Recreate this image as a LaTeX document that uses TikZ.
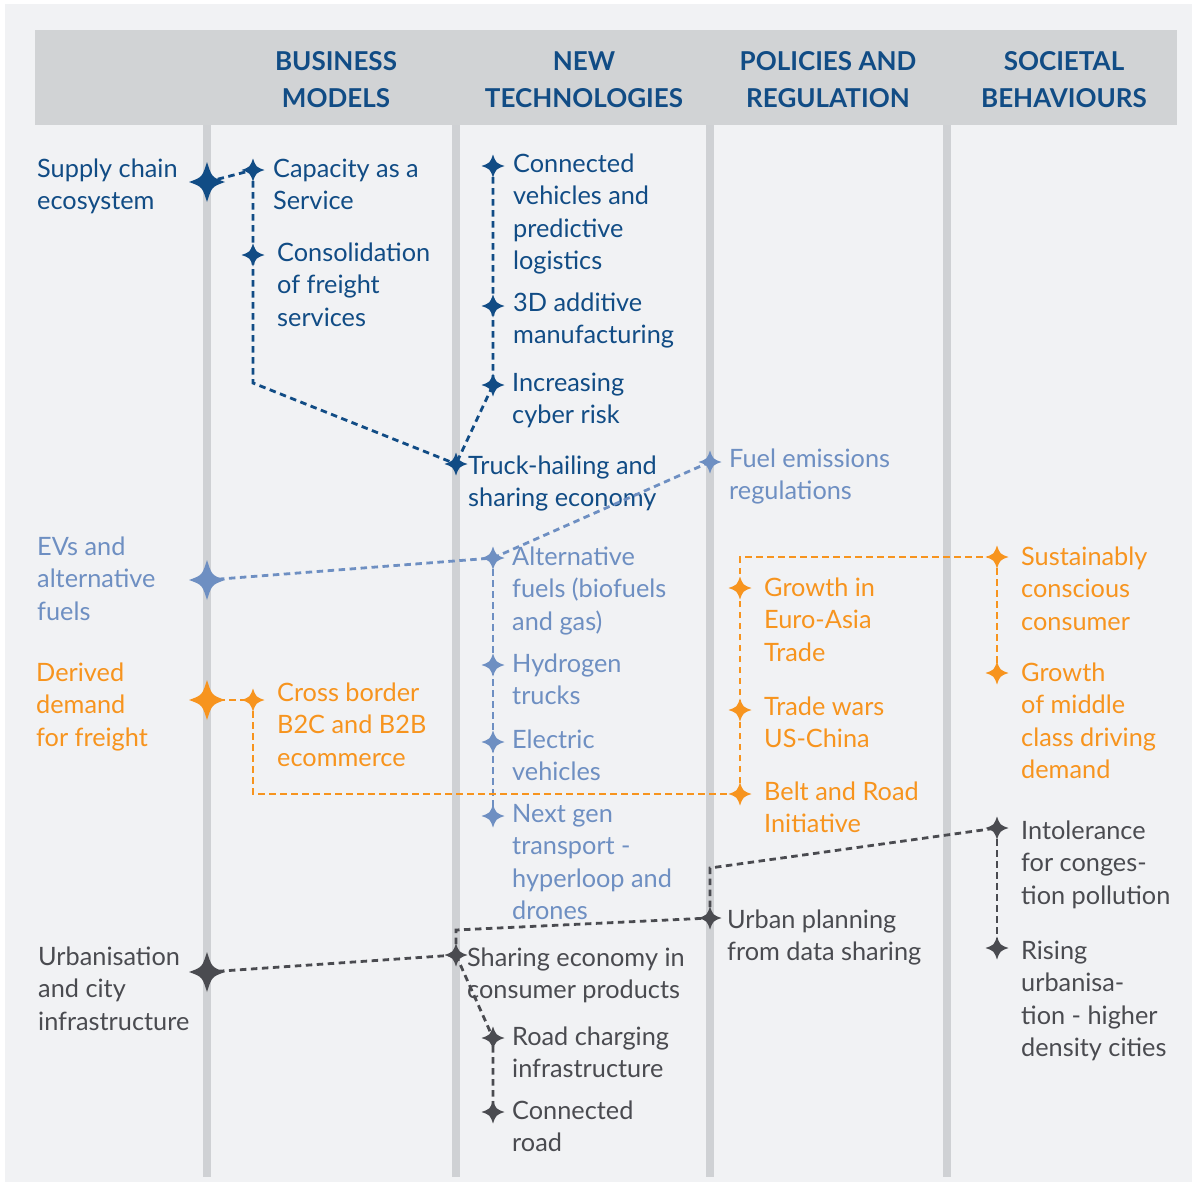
\documentclass[tikz,border=0pt]{standalone}
\usepackage{fontspec}
\setmainfont{Lato}
\definecolor{bgc}{HTML}{F1F2F4}
\definecolor{headc}{HTML}{D1D3D5}
\definecolor{barc}{HTML}{CFD1D4}
\definecolor{dblue}{HTML}{114C85}
\definecolor{lblue}{HTML}{6E8FC2}
\definecolor{orng}{HTML}{F7941E}
\definecolor{dgray}{HTML}{4A4B50}
\newcommand\mlines[1]{\vtop{\baselineskip=32.5pt\halign{##\hfil\cr#1\crcr}}}
\newcommand\hlines[1]{\vtop{\baselineskip=37pt\halign{\hfil##\hfil\cr#1\crcr}}}
\tikzset{
  txt/.style={anchor=base west, inner sep=0pt, font=\fontsize{25.3}{32.5}\selectfont},
  headtxt/.style={anchor=base, inner sep=0pt, text=dblue, font=\fontsize{26}{37}\selectfont\bfseries},
  link/.style={dash pattern=on 6.5pt off 4.5pt, line width=2.8pt},
  sparksmall/.pic={\fill (0,-11.5) .. controls (3,-3) .. (11.5,0) .. controls (3,3) .. (0,11.5) .. controls (-3,3) .. (-11.5,0) .. controls (-3,-3) .. cycle;},
  sparkbig/.pic={\fill (0,-20) .. controls (4.8,-4.8) .. (18,0) .. controls (4.8,4.8) .. (0,20) .. controls (-4.8,4.8) .. (-18,0) .. controls (-4.8,-4.8) .. cycle;}
}
\begin{document}
\begin{tikzpicture}[x=1pt,y=-1pt]
\useasboundingbox (0,0) rectangle (1192,1183);
\fill[white] (0,0) rectangle (1192,1183);
\fill[bgc] (5,4) rectangle (1192,1182);
\fill[headc] (35,30) rectangle (1177,125);
\foreach \bx in {207,456,710,947}{\fill[barc] (\bx-4,125) rectangle (\bx+4,1177);}
% headers
\node[headtxt] (h1) at (336,70) {\hlines{BUSINESS\cr MODELS}};
\node[headtxt] (h2) at (584,70) {\hlines{NEW\cr TECHNOLOGIES}};
\node[headtxt] (h3) at (828,70) {\hlines{POLICIES AND\cr REGULATION}};
\node[headtxt] (h4) at (1064,70) {\hlines{SOCIETAL\cr BEHAVIOURS}};
% dark blue texts
\node[txt,text=dblue] (t1) at (37,177) {\mlines{Supply chain\cr ecosystem}};
\node[txt,text=dblue] (t2) at (273,177) {\mlines{Capacity as a\cr Service}};
\node[txt,text=dblue] (t3) at (277,261) {\mlines{Consolidation\cr of freight\cr services}};
\node[txt,text=dblue] (t4) at (513,172) {\mlines{Connected\cr vehicles and\cr predictive\cr logistics}};
\node[txt,text=dblue] (t5) at (513,311) {\mlines{3D additive\cr manufacturing}};
\node[txt,text=dblue] (t6) at (512,391) {\mlines{Increasing\cr cyber risk}};
\node[txt,text=dblue] (t7) at (468,474) {\mlines{Truck-hailing and\cr sharing economy}};
% light blue texts
\node[txt,text=lblue] (t8) at (729,467) {\mlines{Fuel emissions\cr regulations}};
\node[txt,text=lblue] (t9) at (37,555) {\mlines{EVs and\cr alternative\cr fuels}};
\node[txt,text=lblue] (t10) at (512,565) {\mlines{Alternative\cr fuels (biofuels\cr and gas)}};
\node[txt,text=lblue] (t11) at (512,672) {\mlines{Hydrogen\cr trucks}};
\node[txt,text=lblue] (t12) at (512,748) {\mlines{Electric\cr vehicles}};
\node[txt,text=lblue] (t13) at (512,822) {\mlines{Next gen\cr transport -\cr hyperloop and\cr drones}};
% orange texts
\node[txt,text=orng] (t14) at (36,681) {\mlines{Derived\cr demand\cr for freight}};
\node[txt,text=orng] (t15) at (277,701) {\mlines{Cross border\cr B2C and B2B\cr ecommerce}};
\node[txt,text=orng] (t16) at (764,596) {\mlines{Growth in\cr Euro-Asia\cr Trade}};
\node[txt,text=orng] (t17) at (764,715) {\mlines{Trade wars\cr US-China}};
\node[txt,text=orng] (t18) at (764,800) {\mlines{Belt and Road\cr Initiative}};
\node[txt,text=orng] (t19) at (1021,565) {\mlines{Sustainably\cr conscious\cr consumer}};
\node[txt,text=orng] (t20) at (1021,681) {\mlines{Growth\cr of middle\cr class driving\cr demand}};
% gray texts
\node[txt,text=dgray] (t21) at (38,965) {\mlines{Urbanisation\cr and city\cr infrastructure}};
\node[txt,text=dgray] (t22) at (467,966) {\mlines{Sharing economy in\cr consumer products}};
\node[txt,text=dgray] (t23) at (512,1045) {\mlines{Road charging\cr infrastructure}};
\node[txt,text=dgray] (t24) at (512,1119) {\mlines{Connected\cr road}};
\node[txt,text=dgray] (t25) at (727,928) {\mlines{Urban planning\cr from data sharing}};
\node[txt,text=dgray] (t26) at (1021,839) {\mlines{Intolerance\cr for conges-\cr tion pollution}};
\node[txt,text=dgray] (t27) at (1021,959) {\mlines{Rising\cr urbanisa-\cr tion - higher\cr density cities}};
% star coordinates
\coordinate (sc) at (207,182);
\coordinate (cap) at (253,170);
\coordinate (cons) at (253,255);
\coordinate (b1) at (253,383);
\coordinate (truck) at (456,464);
\coordinate (conn) at (493,166);
\coordinate (td) at (493,306);
\coordinate (cyb) at (493,385);
\coordinate (ev) at (207,580);
\coordinate (fuel) at (710,462);
\coordinate (alt) at (493,558);
\coordinate (hyd) at (493,665);
\coordinate (ele) at (493,742);
\coordinate (nxt) at (493,816);
\coordinate (dd) at (207,700);
\coordinate (cb) at (253,700);
\coordinate (cbb) at (253,794);
\coordinate (belt) at (740,794);
\coordinate (tw) at (740,710);
\coordinate (gea) at (740,588);
\coordinate (ob) at (740,557);
\coordinate (sus) at (997,557);
\coordinate (gmc) at (997,673);
\coordinate (ur) at (207,972);
\coordinate (sh) at (456,955);
\coordinate (sb) at (456,930);
\coordinate (up) at (710,918);
\coordinate (ub) at (710,868);
\coordinate (intl) at (997,828);
\coordinate (ris) at (997,948);
\coordinate (rc) at (493,1038);
\coordinate (cr) at (493,1112);
% connectors
\draw[link,dblue] (sc) -- (cap);
\draw[link,dblue] (cap) -- (cons) -- (b1) -- (truck);
\draw[link,dblue] (conn) -- (td) -- (cyb) -- (truck);
\draw[link,lblue] (ev) -- (alt);
\draw[link,lblue] (alt) -- (fuel);
\draw[link,lblue] (alt) -- (hyd) -- (ele) -- (nxt);
\draw[link,orng] (dd) -- (cb);
\draw[link,orng] (cb) -- (cbb) -- (belt);
\draw[link,orng] (belt) -- (tw) -- (gea) -- (ob) -- (sus);
\draw[link,orng] (sus) -- (gmc);
\draw[link,dgray] (ur) -- (sh);
\draw[link,dgray] (sh) -- (sb) -- (up);
\draw[link,dgray] (up) -- (ub) -- (intl);
\draw[link,dgray] (intl) -- (ris);
\draw[link,dgray] (sh) -- (rc) -- (cr);
% stars
\pic[color=dblue] at (sc) {sparkbig};
\foreach \p in {cap,cons,truck,conn,td,cyb}{\pic[color=dblue] at (\p) {sparksmall};}
\pic[color=lblue] at (ev) {sparkbig};
\foreach \p in {fuel,alt,hyd,ele,nxt}{\pic[color=lblue] at (\p) {sparksmall};}
\pic[color=orng] at (dd) {sparkbig};
\foreach \p in {cb,belt,tw,gea,sus,gmc}{\pic[color=orng] at (\p) {sparksmall};}
\pic[color=dgray] at (ur) {sparkbig};
\foreach \p in {sh,up,intl,ris,rc,cr}{\pic[color=dgray] at (\p) {sparksmall};}
\end{tikzpicture}
\end{document}
